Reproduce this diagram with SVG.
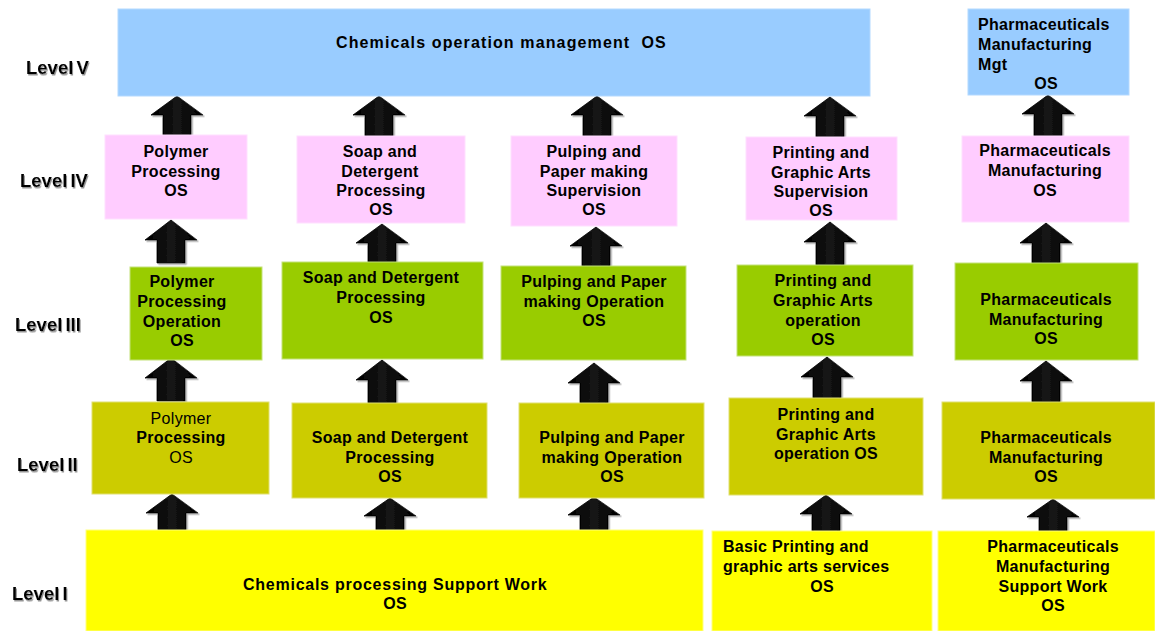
<svg xmlns="http://www.w3.org/2000/svg" width="1155" height="631" viewBox="0 0 1155 631">
<style>
  .t { font-family: "Liberation Sans", Arial, sans-serif; font-weight: bold; font-size: 16px; fill: #000; text-anchor: middle; letter-spacing: 0.3px; }
  .l { text-anchor: start; }
  .n { font-weight: normal; }
  .lv { font-family: "Liberation Sans", Arial, sans-serif; font-weight: bold; font-size: 18.5px; fill: #000; word-spacing: -2px; filter: url(#sh); }
  .b5 { fill: #99ccff; stroke: #b3d9ff; stroke-width: 1; }
  .b4 { fill: #ffccff; stroke: #ffe0ff; stroke-width: 1; }
  .b3 { fill: #99cc00; stroke: #c4e27a; stroke-width: 1; }
  .b2 { fill: #cccc00; stroke: #e0e070; stroke-width: 1; }
  .b1 { fill: #ffff00; stroke: #ffff80; stroke-width: 1; }
  .ar { fill: url(#ag); stroke: #000; stroke-width: 0.8; filter: url(#ash); }
</style>
<defs>
  <filter id="sh" x="-10%" y="-30%" width="130%" height="170%">
    <feDropShadow dx="1" dy="1.5" stdDeviation="0.6" flood-color="#888" flood-opacity="0.9"/>
  </filter>
  <filter id="ash" x="-20%" y="-20%" width="150%" height="150%">
    <feDropShadow dx="1.5" dy="1.5" stdDeviation="0.5" flood-color="#999" flood-opacity="0.8"/>
  </filter>
  <linearGradient id="ag" x1="0" y1="0" x2="1" y2="0">
    <stop offset="0" stop-color="#000"/>
    <stop offset="0.5" stop-color="#151515"/>
    <stop offset="1" stop-color="#000"/>
  </linearGradient>
</defs>

<rect width="1155" height="631" fill="#fff"/>

<g id="level-labels">
  <text class="lv" x="26" y="74">Level V</text>
  <text class="lv" x="20" y="187">Level IV</text>
  <text class="lv" x="15" y="331">Level III</text>
  <text class="lv" x="17" y="471">Level II</text>
  <text class="lv" x="12" y="600">Level I</text>
</g>

<g id="connectors">
  <!-- Level IV -> V -->
  <polygon class="ar" points="177,96 203,115 191,115 191,135 163,135 163,115 151,115"/>
  <polygon class="ar" points="379,96 405,115 393,115 393,136 365,136 365,115 353,115"/>
  <polygon class="ar" points="597,96 623,115 611,115 611,136 583,136 583,115 571,115"/>
  <polygon class="ar" points="830,97 856,116 844,116 844,137 816,137 816,116 804,116"/>
  <polygon class="ar" points="1048,95 1074,114 1062,114 1062,136 1034,136 1034,114 1022,114"/>
  <!-- Level III -> IV -->
  <polygon class="ar" points="171,220 197,240 185,240 185,263 157,263 157,240 145,240"/>
  <polygon class="ar" points="382,224 408,243 396,243 396,262 368,262 368,243 356,243"/>
  <polygon class="ar" points="596,227 622,246 610,246 610,266 582,266 582,246 570,246"/>
  <polygon class="ar" points="830,222 856,242 844,242 844,265 816,265 816,242 804,242"/>
  <polygon class="ar" points="1046,223 1072,243 1060,243 1060,263 1032,263 1032,243 1020,243"/>
  <!-- Level II -> III -->
  <polygon class="ar" points="171,358 197,378 185,378 185,401 157,401 157,378 145,378"/>
  <polygon class="ar" points="382,360 408,380 396,380 396,403 368,403 368,380 356,380"/>
  <polygon class="ar" points="594,363 620,383 608,383 608,403 580,403 580,383 568,383"/>
  <polygon class="ar" points="827,357 853,377 841,377 841,398 813,398 813,377 801,377"/>
  <polygon class="ar" points="1046,361 1072,381 1060,381 1060,402 1032,402 1032,381 1020,381"/>
  <!-- Level I -> II -->
  <polygon class="ar" points="172,494 198,513 186,513 186,530 158,530 158,513 146,513"/>
  <polygon class="ar" points="390,498 416,516 404,516 404,531 376,531 376,516 364,516"/>
  <polygon class="ar" points="594,497 620,515 608,515 608,531 580,531 580,515 568,515"/>
  <polygon class="ar" points="826,495 852,514 840,514 840,531 812,531 812,514 800,514"/>
  <polygon class="ar" points="1053,499 1079,517 1067,517 1067,532 1039,532 1039,517 1027,517"/>
</g>

<!-- Level V -->
<g id="chem-mgt">
  <rect class="b5" x="118" y="9" width="752" height="87"/>
  <text class="t" x="501" y="48" textLength="330" lengthAdjust="spacing" xml:space="preserve">Chemicals operation management  OS</text>
</g>
<g id="pharma-mgt">
  <rect class="b5" x="968" y="9" width="161" height="86"/>
  <text class="t l" x="978" y="30">Pharmaceuticals</text>
  <text class="t l" x="978" y="50">Manufacturing</text>
  <text class="t l" x="978" y="70">Mgt</text>
  <text class="t" x="1046" y="89">OS</text>
</g>

<!-- Level IV -->
<g id="polymer-sup">
  <rect class="b4" x="105" y="135" width="142" height="84"/>
  <text class="t" x="176" y="157">Polymer</text>
  <text class="t" x="176" y="177">Processing</text>
  <text class="t" x="176" y="196">OS</text>
</g>
<g id="soap-sup">
  <rect class="b4" x="297" y="136" width="168" height="87"/>
  <text class="t" x="380" y="157">Soap and</text>
  <text class="t" x="380" y="177">Detergent</text>
  <text class="t" x="381" y="196">Processing</text>
  <text class="t" x="381" y="215">OS</text>
</g>
<g id="pulping-sup">
  <rect class="b4" x="511" y="136" width="166" height="90"/>
  <text class="t" x="594" y="157">Pulping and</text>
  <text class="t" x="594" y="177">Paper making</text>
  <text class="t" x="594" y="196">Supervision</text>
  <text class="t" x="594" y="215">OS</text>
</g>
<g id="printing-sup">
  <rect class="b4" x="746" y="137" width="151" height="83"/>
  <text class="t" x="821" y="158">Printing and</text>
  <text class="t" x="821" y="178">Graphic Arts</text>
  <text class="t" x="821" y="197">Supervision</text>
  <text class="t" x="821" y="216">OS</text>
</g>
<g id="pharma-sup">
  <rect class="b4" x="962" y="136" width="167" height="86"/>
  <text class="t" x="1045" y="156">Pharmaceuticals</text>
  <text class="t" x="1045" y="176">Manufacturing</text>
  <text class="t" x="1045" y="196">OS</text>
</g>

<!-- Level III -->
<g id="polymer-op">
  <rect class="b3" x="130" y="267" width="132" height="93"/>
  <text class="t" x="182" y="287">Polymer</text>
  <text class="t" x="182" y="307">Processing</text>
  <text class="t" x="182" y="327">Operation</text>
  <text class="t" x="182" y="346">OS</text>
</g>
<g id="soap-op">
  <rect class="b3" x="282" y="262" width="201" height="97"/>
  <text class="t" x="381" y="283">Soap and Detergent</text>
  <text class="t" x="381" y="303">Processing</text>
  <text class="t" x="381" y="323">OS</text>
</g>
<g id="pulping-op">
  <rect class="b3" x="501" y="266" width="185" height="94"/>
  <text class="t" x="594" y="287">Pulping and Paper</text>
  <text class="t" x="594" y="307">making Operation</text>
  <text class="t" x="594" y="326">OS</text>
</g>
<g id="printing-op">
  <rect class="b3" x="737" y="265" width="176" height="91"/>
  <text class="t" x="823" y="286">Printing and</text>
  <text class="t" x="823" y="306">Graphic Arts</text>
  <text class="t" x="823" y="326">operation</text>
  <text class="t" x="823" y="345">OS</text>
</g>
<g id="pharma-op">
  <rect class="b3" x="955" y="263" width="183" height="97"/>
  <text class="t" x="1046" y="305">Pharmaceuticals</text>
  <text class="t" x="1046" y="325">Manufacturing</text>
  <text class="t" x="1046" y="344">OS</text>
</g>

<!-- Level II -->
<g id="polymer-proc">
  <rect class="b2" x="92" y="402" width="177" height="92"/>
  <text class="t n" x="181" y="424">Polymer</text>
  <text class="t" x="181" y="443">Processing</text>
  <text class="t n" x="181" y="463">OS</text>
</g>
<g id="soap-proc">
  <rect class="b2" x="292" y="403" width="195" height="95"/>
  <text class="t" x="390" y="443">Soap and Detergent</text>
  <text class="t" x="390" y="463">Processing</text>
  <text class="t" x="390" y="482">OS</text>
</g>
<g id="pulping-proc">
  <rect class="b2" x="519" y="403" width="185" height="95"/>
  <text class="t" x="612" y="443">Pulping and Paper</text>
  <text class="t" x="612" y="463">making Operation</text>
  <text class="t" x="612" y="482">OS</text>
</g>
<g id="printing-proc">
  <rect class="b2" x="729" y="398" width="194" height="97"/>
  <text class="t" x="826" y="420">Printing and</text>
  <text class="t" x="826" y="440">Graphic Arts</text>
  <text class="t" x="826" y="459">operation OS</text>
</g>
<g id="pharma-proc">
  <rect class="b2" x="942" y="402" width="213" height="97"/>
  <text class="t" x="1046" y="443">Pharmaceuticals</text>
  <text class="t" x="1046" y="463">Manufacturing</text>
  <text class="t" x="1046" y="482">OS</text>
</g>

<!-- Level I -->
<g id="chem-support">
  <rect class="b1" x="86" y="530" width="617" height="101"/>
  <text class="t" x="395" y="590" textLength="304" lengthAdjust="spacing">Chemicals processing Support Work</text>
  <text class="t" x="395" y="609">OS</text>
</g>
<g id="printing-basic">
  <rect class="b1" x="712" y="531" width="220" height="100"/>
  <text class="t l" x="723" y="552">Basic Printing and</text>
  <text class="t l" x="723" y="572">graphic arts services</text>
  <text class="t" x="822" y="592">OS</text>
</g>
<g id="pharma-support">
  <rect class="b1" x="938" y="531" width="217" height="100"/>
  <text class="t" x="1053" y="552">Pharmaceuticals</text>
  <text class="t" x="1053" y="572">Manufacturing</text>
  <text class="t" x="1053" y="592">Support Work</text>
  <text class="t" x="1053" y="611">OS</text>
</g>
</svg>
